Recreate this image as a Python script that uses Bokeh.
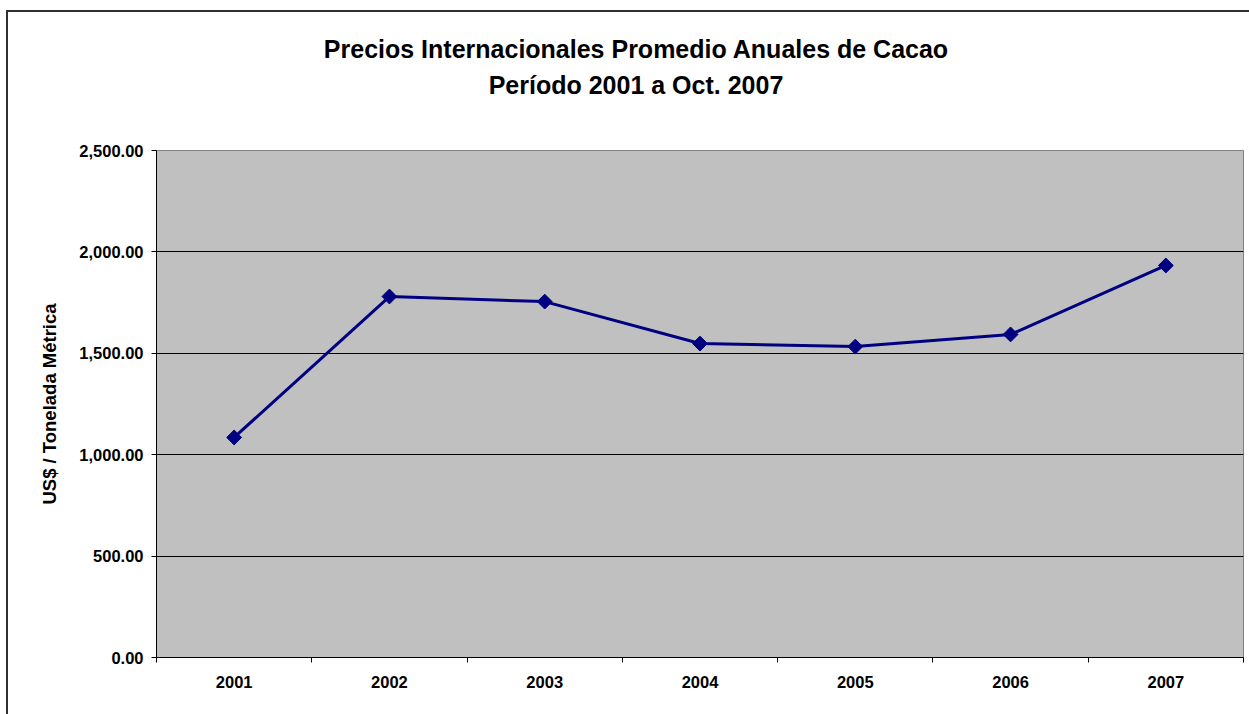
from bokeh.plotting import figure
from bokeh.models import (FixedTicker, NumeralTickFormatter, Range1d, Div,
                          ColumnDataSource)
from bokeh.layouts import column
from bokeh.embed import file_html
from bokeh.resources import INLINE
import math

# ---- data ----
years = ["2001", "2002", "2003", "2004", "2005", "2006", "2007"]
prices = [1085, 1780, 1755, 1548, 1533, 1593, 1933]
y_ticks = [0, 500, 1000, 1500, 2000, 2500]
title_line1 = "Precios Internacionales Promedio Anuales de Cacao"
title_line2 = "Período 2001 a Oct. 2007"
y_label = "US$ / Tonelada Métrica"

FONT = "Liberation Sans"

xpos = [i + 0.5 for i in range(len(years))]
src = ColumnDataSource(dict(x=xpos, y=prices, year=years))

W = 1241
TITLE_H = 126
PLOT_H = 576

title_div = Div(
    text=(f'<div style="box-sizing:border-box;width:{W}px;padding-left:15px;'
          f'padding-top:19px;line-height:36px;font-family:\'{FONT}\',Arial,sans-serif;'
          f'font-weight:bold;font-size:25px;text-align:center;color:black;'
          f'white-space:nowrap">{title_line1}<br>{title_line2}</div>'),
    width=W, height=TITLE_H, margin=0)

p = figure(width=W, height=PLOT_H, output_backend="svg", toolbar_location=None,
           x_range=Range1d(0, len(years)), y_range=Range1d(0, 2500),
           min_border_left=148, min_border_right=6, min_border_top=12,
           min_border_bottom=57, margin=0)

p.background_fill_color = "#C0C0C0"
p.border_fill_color = "white"
p.outline_line_color = "#808080"
p.outline_line_width = 1

p.xgrid.grid_line_color = None
p.ygrid.grid_line_color = "black"
p.ygrid.grid_line_width = 1
p.ygrid.ticker = FixedTicker(ticks=y_ticks[:-1])

ya = p.yaxis[0]
ya.ticker = FixedTicker(ticks=y_ticks)
ya.formatter = NumeralTickFormatter(format="0,0.00")
ya.major_tick_in = 0
ya.major_tick_out = 5
ya.minor_tick_line_color = None
ya.axis_line_color = "black"
ya.major_tick_line_color = "black"
ya.major_label_text_font = FONT
ya.major_label_text_font_style = "bold"
ya.major_label_text_font_size = "16.5px"
ya.major_label_text_color = "black"
ya.major_label_standoff = 8
ya.axis_label = y_label
ya.axis_label_text_font = FONT
ya.axis_label_text_font_style = "bold"
ya.axis_label_text_font_size = "18.5px"
ya.axis_label_text_color = "black"
ya.axis_label_standoff = 16

xa = p.xaxis[0]
xa.ticker = FixedTicker(ticks=xpos, minor_ticks=list(range(len(years) + 1)))
xa.major_label_overrides = {x: y for x, y in zip(xpos, years)}
xa.major_tick_line_color = None
xa.minor_tick_line_color = "black"
xa.minor_tick_in = 0
xa.minor_tick_out = 5
xa.axis_line_color = "black"
xa.major_label_text_font = FONT
xa.major_label_text_font_style = "bold"
xa.major_label_text_font_size = "16.5px"
xa.major_label_text_color = "black"
xa.major_label_standoff = 12

p.line("x", "y", source=src, line_color="#000080", line_width=3)
p.scatter("x", "y", source=src, marker="square", angle=math.pi / 4, size=10.5,
          fill_color="#000080", line_color="#000080")

layout = column(title_div, p, spacing=0)
layout.styles = {"border-left": "2px solid #303030", "border-top": "2px solid #303030",
                 "margin-top": "10px", "margin-left": "6px", "background": "white"}

open("out.html", "w").write(file_html(layout, INLINE))
